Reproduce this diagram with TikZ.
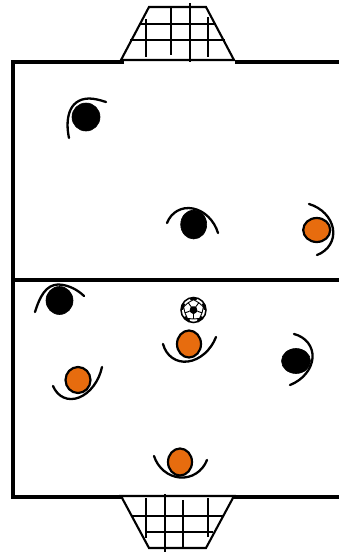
\documentclass[tikz,border=0pt]{standalone}
\usetikzlibrary{calc,shapes.geometric}
\definecolor{kit}{RGB}{231,108,14}
\tikzset{
  pitchline/.style={line width=3.4pt,line cap=butt},
  netline/.style={line width=2pt},
  framelineA/.style={line width=2.1pt,line join=miter},
  sweep/.style={line width=2.3pt,line cap=round},
  darkman/.style={ellipse,fill=black,draw=black,line width=.6pt,inner sep=0pt,outer sep=0pt},
  kitman/.style={ellipse,fill=kit,draw=black,line width=2.2pt,inner sep=0pt,outer sep=0pt},
}
% round sweep through three points, tangent at the middle point parallel to the chord
\newcommand{\sweepline}[3]{%
  \coordinate (sA) at (#1); \coordinate (sM) at (#2); \coordinate (sB) at (#3);
  \coordinate (qA) at ($(sM)-0.37*(sB)+0.37*(sA)$);
  \coordinate (qB) at ($(sM)+0.37*(sB)-0.37*(sA)$);
  \draw[sweep] (sA) .. controls ($(sA)!0.6!(qA)$) and ($(sM)!0.6!(qA)$) .. (sM)
     .. controls ($(sM)!0.6!(qB)$) and ($(sB)!0.6!(qB)$) .. (sB);}
\begin{document}
\begin{tikzpicture}[x=1pt,y=-1pt]
\useasboundingbox (0,0) rectangle (339,552);
% pitch
\draw[pitchline] (124,62) -- (13,62) -- (13,497) -- (122,497);
\draw[pitchline] (235,62) -- (339,62);
\draw[pitchline] (233,497) -- (339,497);
\draw[pitchline] (13,280) -- (339,280);
% top goal
\draw[framelineA] (121,60) -- (149,7) -- (206,7) -- (234,60) -- cycle;
\draw[netline] (140,23.5) -- (215,23.5) (130,40) -- (225,40);
\draw[netline] (146,19) -- (146,57) (171,7) -- (171,55) (190,3) -- (190,62) (208,17) -- (208,57);
% bottom goal
\draw[framelineA] (121,496) -- (149,548) -- (206,548) -- (234,496) -- cycle;
\draw[netline] (131,516) -- (224,516) (146,532) -- (213,532);
\draw[netline] (146,498) -- (146,538) (165,494) -- (165,552) (183,500) -- (183,548) (208,498) -- (208,537);
% players
\node[darkman,minimum width=28pt,minimum height=28pt] (b1) at (86,117) {};
\node[darkman,minimum width=26pt,minimum height=29pt] (b2) at (193.7,224.5) {};
\node[darkman,minimum width=27pt,minimum height=28pt] (b3) at (59.5,300.5) {};
\node[darkman,minimum width=29pt,minimum height=25pt] (b4) at (296,361) {};
\node[kitman,minimum width=27pt,minimum height=24pt] (o1) at (316.7,230) {};
\node[kitman,minimum width=25pt,minimum height=26pt] (o2) at (78,380) {};
\node[kitman,minimum width=24pt,minimum height=27pt] (o3) at (189,344) {};
\node[kitman,minimum width=24pt,minimum height=27pt] (o4) at (180,462) {};
% sweeps
\draw[sweep] (69,138) .. controls (65.5,122) and (67,99) .. (89,98.5) .. controls (94,98.5) and (100,100) .. (106,102);
\sweepline{167,223}{193,208.5}{218,233}
\sweepline{309,204}{333,229}{317,255}
\draw[sweep] (35,312) .. controls (40,296) and (46,285) .. (58,284.5) .. controls (68,284.5) and (78,290) .. (84,296);
\sweepline{53,386}{79,397.5}{102,367}
\sweepline{163,344}{188,361.5}{216,337}
\sweepline{294,334}{312.5,358}{290,385}
\sweepline{154,456}{180,477.5}{207,460}
% ball
\coordinate (c) at (193.5,310);
\fill[white] (c) circle (12.5);
\begin{scope}
\clip (c) circle (12.5);
\fill[black] ($(c)+(90:4.4)$) -- ($(c)+(162:4.4)$) -- ($(c)+(234:4.4)$) -- ($(c)+(306:4.4)$) -- ($(c)+(18:4.4)$) -- cycle;
\foreach \a in {54,126,198,270,342}{
  \fill[black] ($(c)+(\a-18:10.4)$) -- ($(c)+(\a+18:10.4)$) -- ($(c)+(\a+14:14)$) -- ($(c)+(\a-14:14)$) -- cycle;
}
\foreach \a in {90,162,234,306,18}{
  \draw[line width=.9pt] ($(c)+(\a:4.4)$) -- ($(c)+(\a:9)$);
  \draw[line width=.9pt] ($(c)+(\a:9)$) -- ($(c)+(\a-36:10.4)$);
  \draw[line width=.9pt] ($(c)+(\a:9)$) -- ($(c)+(\a+36:10.4)$);
}
\end{scope}
\draw[line width=1.5pt] (c) circle (12.5);
\end{tikzpicture}
\end{document}
